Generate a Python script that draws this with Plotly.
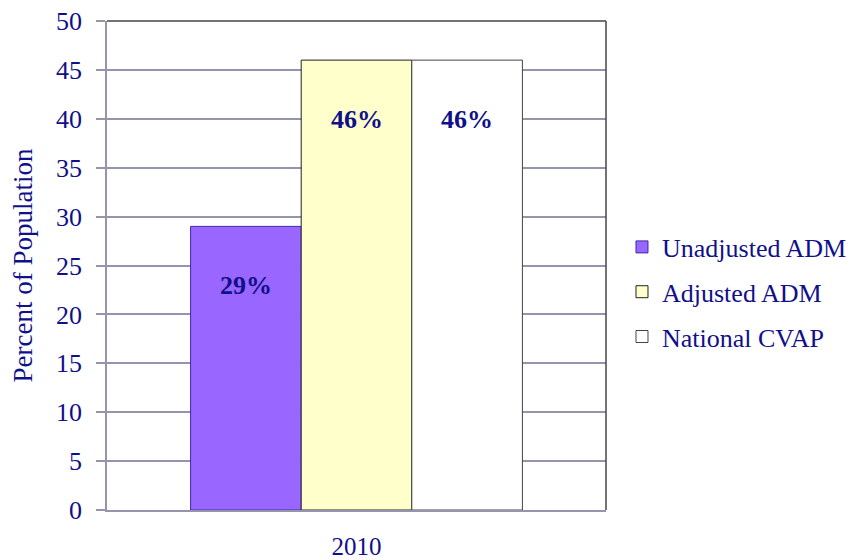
import plotly.graph_objects as go

categories = ["2010"]
series_names = ["Unadjusted ADM", "Adjusted ADM", "National CVAP"]
series_values = [[29], [46], [46]]
value_labels = ["29%", "46%", "46%"]
fill_colors = ["#9966FF", "#FFFFCC", "#FFFFFF"]
line_colors = ["#3A2AB0", "#222222", "#444444"]
y_ticks = [0, 5, 10, 15, 20, 25, 30, 35, 40, 45, 50]

TEXT = "#10108a"
FONT = "Liberation Serif"
BARGAP = 0.335

fig = go.Figure()
for i, name in enumerate(series_names):
    fig.add_trace(go.Bar(
        x=categories, y=series_values[i], name=name,
        marker=dict(color=fill_colors[i], line=dict(color=line_colors[i], width=1)),
        legendgroup=name,
    ))

n = len(series_names)
w = (1 - BARGAP) / n
annotations = []
for i in range(n):
    annotations.append(dict(
        x=(i - (n - 1) / 2) * w, y=series_values[i][0], xref="x", yref="y",
        text="<b>" + value_labels[i] + "</b>", showarrow=False,
        yshift=-59, font=dict(family=FONT, size=26, color=TEXT),
    ))

# the page body adds an 8px margin, so the figure is sized/placed to compensate
fig.update_layout(
    width=851, height=552,
    margin=dict(l=99, r=253, t=13, b=50),
    paper_bgcolor="white", plot_bgcolor="white",
    barmode="group", bargap=BARGAP, bargroupgap=0,
    font=dict(family=FONT, color=TEXT, size=25),
    showlegend=True,
    legend=dict(
        xref="container", yref="container",
        x=0.7215, xanchor="left", y=0.4855, yanchor="middle",
        font=dict(family=FONT, size=26, color=TEXT),
        traceorder="grouped", tracegroupgap=8,
        bgcolor="rgba(0,0,0,0)",
    ),
    annotations=annotations,
    xaxis=dict(
        type="category", showgrid=False, ticks="", automargin=False,
        showline=True, linecolor="#9494ac", linewidth=1.5,
        tickfont=dict(family=FONT, size=25, color=TEXT),
        ticklabelstandoff=13,
    ),
    yaxis=dict(
        range=[0, 50], tickvals=y_ticks, ticks="outside", ticklen=9,
        tickcolor="#9494ac", tickwidth=1.5, automargin=False,
        ticklabeloverflow="allow",
        showgrid=True, gridcolor="#9494ac", gridwidth=1.5,
        showline=True, linecolor="#9494ac", linewidth=1.5,
        zeroline=False,
        tickfont=dict(family=FONT, size=26, color=TEXT),
        ticklabelstandoff=9,
        title=dict(text="Percent of Population", font=dict(family=FONT, size=27, color=TEXT), standoff=21),
    ),
    shapes=[
        dict(type="line", xref="paper", yref="paper", x0=0, x1=1, y0=1, y1=1,
             line=dict(color="#444444", width=1.5)),
        dict(type="line", xref="paper", yref="paper", x0=1, x1=1, y0=0, y1=1,
             line=dict(color="#444444", width=1.5)),
    ],
)

fig.write_html("out.html")
